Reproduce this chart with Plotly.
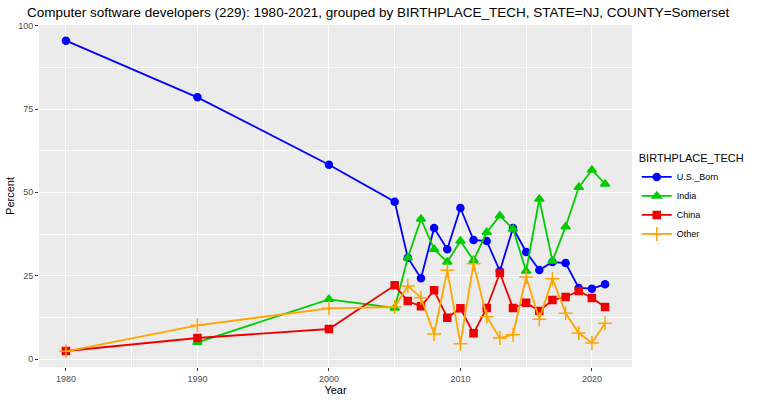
import plotly.graph_objects as go

years_us = [1980, 1990, 2000, 2005, 2006, 2007, 2008, 2009, 2010, 2011, 2012, 2013, 2014, 2015, 2016, 2017, 2018, 2019, 2020, 2021]
us_born = [95.5, 78.5, 58.3, 47.2, 30.4, 24.2, 39.3, 32.9, 45.3, 35.7, 35.4, 26.4, 39.3, 32.1, 26.7, 29.1, 28.8, 21.3, 21.1, 22.4]

years_in = [1990, 2000, 2005, 2006, 2007, 2008, 2009, 2010, 2011, 2012, 2013, 2014, 2015, 2016, 2017, 2018, 2019, 2020, 2021]
india = [5.0, 17.9, 15.3, 30.4, 42.0, 32.9, 29.1, 35.4, 29.6, 38.0, 43.0, 39.0, 26.4, 48.0, 29.4, 39.7, 51.5, 56.7, 52.5]

years_cn = [1980, 1990, 2000, 2005, 2006, 2007, 2008, 2009, 2010, 2011, 2012, 2013, 2014, 2015, 2016, 2017, 2018, 2019, 2020, 2021]
china = [2.4, 6.3, 9.0, 22.1, 17.4, 15.8, 20.6, 12.4, 15.2, 7.7, 15.3, 25.8, 15.3, 16.9, 14.4, 17.7, 18.6, 20.4, 18.3, 15.6]

years_ot = [1980, 1990, 2000, 2005, 2006, 2007, 2008, 2009, 2010, 2011, 2012, 2013, 2014, 2015, 2016, 2017, 2018, 2019, 2020, 2021]
other = [2.3, 10.1, 15.2, 15.6, 21.9, 18.4, 7.5, 26.6, 4.6, 28.6, 12.7, 6.3, 7.3, 24.6, 11.9, 24.1, 13.7, 7.8, 4.8, 10.7]

series = [
    ("U.S._Born", years_us, us_born, "#0000FF", "circle", 7),
    ("India", years_in, india, "#00CD00", "triangle-up", 8),
    ("China", years_cn, china, "#EE0000", "square", 7),
    ("Other", years_ot, other, "#FFA500", "cross-thin-open", 10),
]

fig = go.Figure()
for name, xs, ys, col, sym, sz in series:
    fig.add_trace(go.Scatter(
        x=xs, y=ys, name=name, mode="lines+markers",
        line=dict(color=col, width=1.8),
        marker=dict(symbol=sym, size=sz, color=col, line=dict(color=col, width=1.5)),
    ))

font = "Liberation Sans, Arial, sans-serif"
fig.update_layout(
    width=758, height=400,
    margin=dict(l=39, r=122, t=25, b=33),
    paper_bgcolor="white", plot_bgcolor="#EBEBEB",
    font=dict(family=font, size=11, color="black"),
    title=dict(text="Computer software developers (229): 1980-2021, grouped by BIRTHPLACE_TECH, STATE=NJ, COUNTY=Somerset",
               x=27/758, xref="container", xanchor="left", y=1 - 12/400, yref="container", yanchor="middle",
               font=dict(family=font, size=13.5, color="black")),
    legend=dict(title=dict(text="BIRTHPLACE_TECH", font=dict(size=11)),
                x=1.008, xanchor="left", y=0.64, yanchor="top",
                font=dict(size=9), bgcolor="white", tracegroupgap=0, itemwidth=30),
    showlegend=True,
)
fig.update_xaxes(
    range=[1977.95, 2023.05], tickmode="array", tickvals=[1980, 1990, 2000, 2010, 2020],
    showgrid=True, gridcolor="white", gridwidth=1.1, zeroline=False, automargin=False,
    ticks="outside", ticklen=3, tickcolor="#333333", tickwidth=1,
    tickfont=dict(size=9, color="#4D4D4D"),
    title=dict(text="Year", font=dict(size=11), standoff=1),
    minor=dict(tickvals=[1985, 1995, 2005, 2015], showgrid=True, gridcolor="white", gridwidth=0.55, ticks=""),
)
fig.update_yaxes(
    range=[-2.4, 100.2], tickmode="array", tickvals=[0, 25, 50, 75, 100],
    showgrid=True, gridcolor="white", gridwidth=1.1, zeroline=False, automargin=False,
    ticks="outside", ticklen=3, tickcolor="#333333", tickwidth=1,
    tickfont=dict(size=9, color="#4D4D4D"),
    title=dict(text="Percent", font=dict(size=11), standoff=1),
    minor=dict(tickvals=[12.5, 37.5, 62.5, 87.5], showgrid=True, gridcolor="white", gridwidth=0.55, ticks=""),
)
fig.write_html("out.html")
